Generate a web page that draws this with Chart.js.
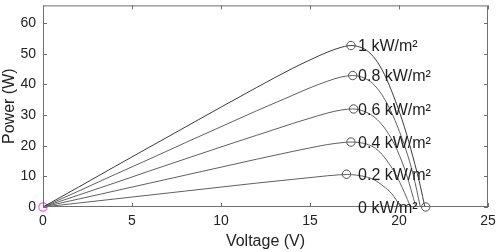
<!DOCTYPE html>
<html>
<head>
<meta charset="utf-8">
<script src="https://cdn.jsdelivr.net/npm/chart.js@4.4.1/dist/chart.umd.min.js"></script>
<style>
html,body{margin:0;padding:0;background:#fff;}
#wrap{width:498px;height:252px;position:relative;}
</style>
</head>
<body>
<div id="wrap"><canvas id="c" width="498" height="252"></canvas></div>
<script>
// ---- data ----
const irradianceLabels = ['1 kW/m²', '0.8 kW/m²', '0.6 kW/m²', '0.4 kW/m²', '0.2 kW/m²', '0 kW/m²'];

const v100 = [0, 2, 4, 6, 8, 10, 12, 14, 15, 16, 16.8, 17.3, 17.8, 18.3, 18.8, 19.3, 19.8, 20.3, 20.8, 21.2, 21.45];
const p100 = [0, 6.5, 13.1, 19.6, 26.1, 32.6, 39.0, 45.2, 48.0, 50.6, 52.2, 52.7, 52.2, 50.6, 47.2, 41.8, 34.6, 26.2, 16.0, 6.8, 0];

const v080 = [0, 2, 4, 6, 8, 10, 12, 14, 15, 16, 16.8, 17.4, 17.9, 18.4, 18.9, 19.4, 19.9, 20.4, 20.8, 21.2];
const p080 = [0, 5.2, 10.5, 15.7, 21.0, 26.2, 31.4, 36.4, 38.9, 41.1, 42.5, 42.9, 42.4, 40.9, 37.8, 33.0, 26.5, 18.5, 10.5, 0];

const v060 = [0, 2, 4, 6, 8, 10, 12, 14, 15, 16, 16.8, 17.4, 17.9, 18.4, 18.9, 19.4, 19.9, 20.4, 20.95];
const p060 = [0, 3.9, 7.8, 11.8, 15.7, 19.6, 23.4, 27.2, 29.0, 30.7, 31.7, 32.0, 31.5, 30.2, 27.8, 24.0, 18.5, 11.0, 0];

const v040 = [0, 2, 4, 6, 8, 10, 12, 14, 15, 16, 16.8, 17.3, 17.8, 18.3, 18.8, 19.3, 19.8, 20.3, 20.65];
const p040 = [0, 2.6, 5.2, 7.8, 10.4, 13.0, 15.6, 18.1, 19.3, 20.4, 21.0, 21.2, 21.0, 20.3, 18.6, 15.3, 10.8, 4.8, 0];

const v020 = [0, 2, 4, 6, 8, 10, 12, 14, 15, 16, 16.6, 17.1, 17.6, 18.1, 18.6, 19.1, 19.6, 20.1];
const p020 = [0, 1.3, 2.6, 3.9, 5.2, 6.5, 7.8, 9.0, 9.6, 10.2, 10.5, 10.6, 10.4, 9.9, 8.9, 6.9, 4.3, 0];

const v000 = [0, 21.45];
const p000 = [0, 0];

// maximum power points (circles)
const mppV = [17.3, 17.4, 17.45, 17.3, 17.05, 21.5];
const mppP = [52.7, 42.9, 32.0, 21.2, 10.7, 0];

// start point marker
const startV = [0];
const startP = [0];

// label anchor voltage
const labelV = 17.7;

const xTicks = [0, 5, 10, 15, 20, 25];
const yTicks = [0, 10, 20, 30, 40, 50, 60];

// ---- build ----
const zip = (xs, ys) => xs.map((x, i) => ({x: x, y: ys[i]}));
const curves = [
  [v100, p100, '#3c3c3c'],
  [v080, p080, '#606060'],
  [v060, p060, '#606060'],
  [v040, p040, '#606060'],
  [v020, p020, '#606060'],
  [v000, p000, '#606060']
];
const datasets = curves.map(c => ({
  type: 'line',
  data: zip(c[0], c[1]),
  borderColor: c[2],
  borderWidth: 1,
  pointRadius: 0,
  fill: false,
  cubicInterpolationMode: 'monotone'
}));
datasets.push({
  type: 'scatter',
  data: zip(mppV, mppP),
  borderColor: '#505050',
  backgroundColor: 'rgba(0,0,0,0)',
  borderWidth: 1,
  pointRadius: 4.2,
  pointStyle: 'circle',
  clip: false
});
datasets.push({
  type: 'scatter',
  data: zip(startV, startP),
  borderColor: '#ff55ff',
  backgroundColor: 'rgba(0,0,0,0)',
  borderWidth: 1.2,
  pointRadius: 4.2,
  clip: false
});

const FONT = '"Liberation Sans", Arial, sans-serif';

const frame = {
  id: 'frame',
  afterDatasetsDraw(chart) {
    const ctx = chart.ctx, a = chart.chartArea;
    const xs = chart.scales.x, ys = chart.scales.y;
    ctx.save();
    ctx.strokeStyle = '#6e6e6e';
    ctx.lineWidth = 1;
    ctx.strokeRect(a.left + 0.5, a.top + 0.5, a.right - a.left - 1, a.bottom - a.top - 1);
    ctx.beginPath();
    xTicks.forEach(v => {
      const px = Math.round(xs.getPixelForValue(v)) + 0.5;
      ctx.moveTo(px, a.bottom); ctx.lineTo(px, a.bottom - 4);
      ctx.moveTo(px, a.top); ctx.lineTo(px, a.top + 4);
    });
    yTicks.forEach(v => {
      const py = Math.round(ys.getPixelForValue(v)) + 0.5;
      ctx.moveTo(a.left, py); ctx.lineTo(a.left + 4, py);
      ctx.moveTo(a.right, py); ctx.lineTo(a.right - 4, py);
    });
    ctx.stroke();
    // irradiance labels
    ctx.fillStyle = '#1e1e1e';
    ctx.font = '16px ' + FONT;
    ctx.textAlign = 'left';
    ctx.textBaseline = 'middle';
    const lx = xs.getPixelForValue(labelV);
    irradianceLabels.forEach((t, i) => {
      ctx.fillText(t, lx, ys.getPixelForValue(mppP[i]) + 1.5);
    });
    ctx.restore();
  }
};

new Chart(document.getElementById('c'), {
  data: {datasets: datasets},
  options: {
    responsive: false,
    animation: false,
    devicePixelRatio: 1,
    layout: {padding: {left: 0, right: 10, top: 3, bottom: 0}},
    plugins: {legend: {display: false}, tooltip: {enabled: false}},
    scales: {
      x: {
        type: 'linear', min: 0, max: 25,
        afterBuildTicks: s => { s.ticks = xTicks.map(v => ({value: v})); },
        afterFit: s => { s.height = 45; s.paddingLeft = 0; s.paddingRight = 0; },
        grid: {display: false, drawTicks: false},
        border: {display: false},
        ticks: {color: '#222', padding: 6, font: {family: FONT, size: 14}, maxRotation: 0},
        title: {display: true, text: 'Voltage (V)', color: '#222', padding: {top: 0, bottom: 1}, font: {family: FONT, size: 16}}
      },
      y: {
        type: 'linear', min: 0, max: 65.8,
        afterBuildTicks: s => { s.ticks = yTicks.map(v => ({value: v})); },
        afterFit: s => { s.width = 43; s.paddingTop = 0; s.paddingBottom = 0; },
        grid: {display: false, drawTicks: false},
        border: {display: false},
        ticks: {color: '#222', padding: 7, font: {family: FONT, size: 14}},
        title: {display: true, text: 'Power (W)', color: '#222', padding: {top: 0, bottom: 0}, font: {family: FONT, size: 16}}
      }
    }
  },
  plugins: [frame]
});
</script>
</body>
</html>
